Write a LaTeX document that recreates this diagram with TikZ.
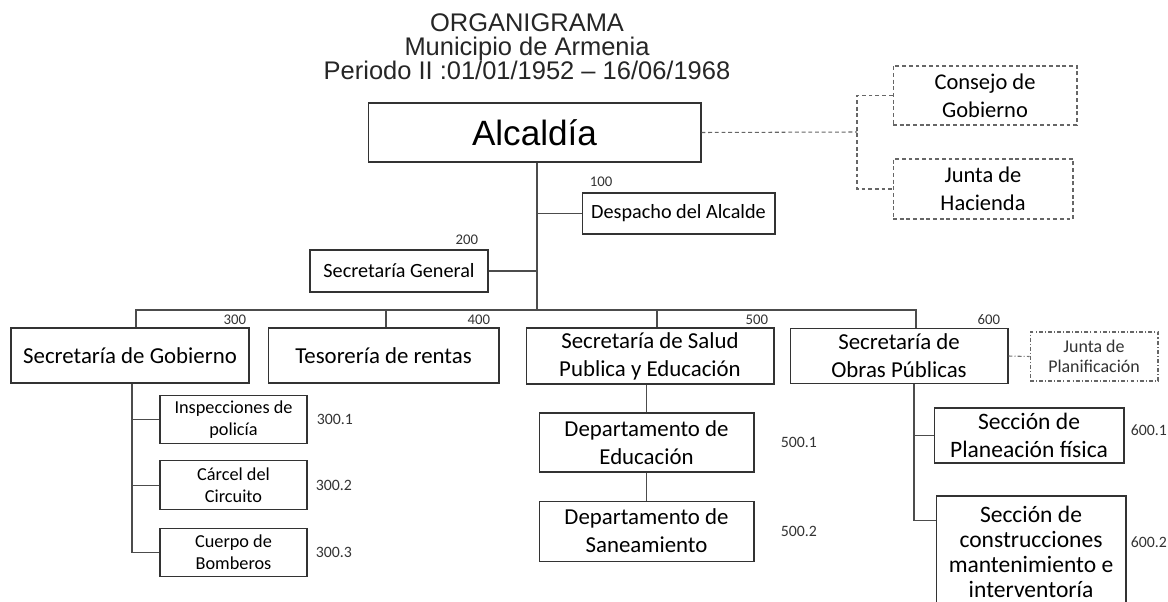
\documentclass[tikz,border=0pt]{standalone}
\usepackage{fontspec}
\setmainfont{Carlito}
\newfontfamily\arialfont{Liberation Sans}
\usetikzlibrary{positioning}
\tikzset{
  unit/.style={rectangle, draw=black!80, line width=0.6pt, align=center, inner sep=0pt, font=\fontsize{13}{16}\selectfont},
  smallunit/.style={unit, font=\fontsize{11.5}{14}\selectfont},
  subunit/.style={unit, minimum width=2.94cm, minimum height=0.97cm, font=\fontsize{10.4}{12.5}\selectfont},
  council/.style={unit, draw=black!60, dash pattern=on 2.2pt off 1.6pt, font=\fontsize{12.8}{16}\selectfont},
  link/.style={draw=black!70, line width=0.6pt},
  dashlink/.style={link, draw=black!60, dash pattern=on 2.2pt off 1.6pt},
  code/.style={inner sep=0pt, text=black!80, font=\fontsize{8.4}{10}\selectfont},
  subcode/.style={code, font=\fontsize{9}{11}\selectfont},
}

\begin{document}
\begin{tikzpicture}[x=0.02cm, y=-0.02cm]
  \useasboundingbox[fill=white] (0,0) rectangle (1168,601);

  \node[align=center, text=black!85, font=\arialfont\fontsize{14.5}{13.7}\selectfont] (title) at (527,47)
    {ORGANIGRAMA\\Municipio de Armenia\\Periodo II :01/01/1952 – 16/06/1968};

  % top level
  \node[unit, minimum width=6.66cm, minimum height=1.18cm, font=\arialfont\fontsize{20}{24}\selectfont] (alcaldia) at (534.5,132.5) {Alcaldía};
  \node[council, minimum width=3.68cm, minimum height=1.18cm] (consejo) at (985,95.5) {Consejo de\\Gobierno};
  \node[council, minimum width=3.6cm, minimum height=1.2cm] (hacienda) at (983,189) {Junta de\\Hacienda};

  \node[smallunit, minimum width=3.86cm, minimum height=0.82cm] (despacho) at (678.5,213.5) {Despacho del Alcalde};
  \node[smallunit, minimum width=3.56cm, minimum height=0.84cm] (general) at (399,271) {Secretaría General};

  % secretarias
  \node[unit, minimum width=4.76cm, minimum height=1.1cm] (gobierno) at (130,355.5) {Secretaría de Gobierno};
  \node[unit, minimum width=4.62cm, minimum height=1.1cm] (tesoreria) at (383.5,355.5) {Tesorería de rentas};
  \node[unit, minimum width=4.96cm, minimum height=1.12cm] (salud) at (650,356) {Secretaría de Salud\\Publica y Educación};
  \node[unit, minimum width=4.36cm, minimum height=1.1cm] (obras) at (899,356) {Secretaría de\\Obras Públicas};
  \node[council, minimum width=2.56cm, minimum height=0.98cm, text=black!80, dash pattern=on 2.2pt off 1.2pt on 0.6pt off 1.2pt,
        font=\fontsize{10.2}{11.4}\selectfont] (planificacion) at (1094,356.5) {Junta de\\Planificación};

  % dependencias
  \node[subunit] (inspecciones) at (233.5,419.5) {Inspecciones de\\policía};
  \node[subunit, below=0.32cm of inspecciones] (carcel) {Cárcel del\\Circuito};
  \node[subunit, below=0.36cm of carcel] (cuerpo) {Cuerpo de\\Bomberos};

  \node[unit, minimum width=4.3cm, minimum height=1.18cm] (educacion) at (646.5,442.5) {Departamento de\\Educación};
  \node[unit, minimum width=4.3cm, minimum height=1.2cm, below=0.56cm of educacion] (saneamiento) {Departamento de\\Saneamiento};

  \node[unit, minimum width=3.8cm, minimum height=1.1cm, font=\fontsize{13.4}{16}\selectfont] (planeacion) at (1029,435.5) {Sección de\\Planeación física};
  \node[unit, minimum width=3.8cm, minimum height=2.24cm, font=\fontsize{13.4}{14.2}\selectfont] (construcciones) at (1031,552)
    {Sección de\\construcciones\\mantenimiento e\\interventoría};

  % codes
  \node[code, above right=0.11cm and 0.16cm of despacho.north west] (n100) {100};
  \node[code, above left=0.1cm and 0.2cm of general.north east] (n200) {200};
  \node[code, above left=0.06cm and 0.06cm of gobierno.north east] (n300) {300};
  \node[code, above left=0.06cm and 0.18cm of tesoreria.north east] (n400) {400};
  \node[code, above left=0.06cm and 0.12cm of salud.north east] (n500) {500};
  \node[code, above left=0.06cm and 0.16cm of obras.north east] (n600) {600};
  \node[subcode, right=0.18cm of inspecciones] (n3001) {300.1};
  \node[subcode, right=0.16cm of carcel] (n3002) {300.2};
  \node[subcode, right=0.16cm of cuerpo] (n3003) {300.3};
  \node[subcode, right=0.52cm of educacion] (n5001) {500.1};
  \node[subcode, right=0.52cm of saneamiento] (n5002) {500.2};
  \node[subcode, anchor=west] (n6001) at ([xshift=0.12cm, yshift=0.11cm]planeacion.east) {600.1};
  \node[subcode, anchor=west] (n6002) at ([xshift=0.08cm, yshift=0.2cm]construcciones.east) {600.2};

  % lines
  \coordinate (bus) at (537,310);
  \coordinate (consejos) at (857,132);
  \draw[link] (alcaldia.south -| bus) -- (bus);
  \draw[link] (despacho.west) -- (despacho.west -| bus);
  \draw[link] (general.east) -- (general.east -| bus);
  \draw[link] ([xshift=0.12cm]gobierno.north) |- (bus) -| ([xshift=0.34cm]obras.north);
  \draw[link] ([xshift=0.05cm]tesoreria.north) -- ([xshift=0.05cm]tesoreria.north |- bus);
  \draw[link] ([xshift=0.14cm]salud.north) -- ([xshift=0.14cm]salud.north |- bus);

  \draw[dashlink] (alcaldia.east) -- (consejos);
  \draw[dashlink] (consejo.west) -| (consejos) |- (hacienda.west);
  \draw[link, draw=black!55, dash pattern=on 2.2pt off 1.2pt on 0.6pt off 1.2pt] (obras.east) -- (planificacion.west);

  \coordinate (gobtrunk) at ([xshift=0.04cm]gobierno.south);
  \draw[link] (gobtrunk) |- (cuerpo.west);
  \foreach \n in {inspecciones, carcel}
    \draw[link] (\n.west) -- (\n.west -| gobtrunk);

  \draw[link] (educacion.north |- salud.south) -- (educacion.north);
  \draw[link] (educacion) -- (saneamiento);

  \coordinate (obrastrunk) at ([xshift=0.3cm]obras.south);
  \draw[link] (obrastrunk) |- ([yshift=-0.5cm]construcciones.north west);
  \draw[link] (planeacion.west) -- (planeacion.west -| obrastrunk);
\end{tikzpicture}
\end{document}
